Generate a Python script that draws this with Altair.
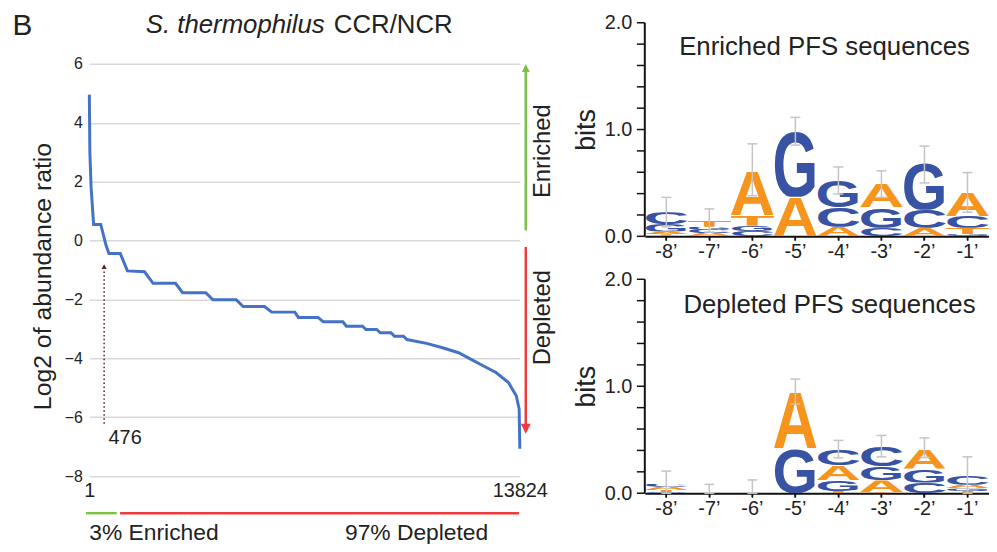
import base64
import altair as alt
import pandas as pd

# ---------------- data: ranked log2 ratios (left panel) ----------------
rank = [1, 18, 58, 138, 367, 538, 630, 996, 1224, 1773, 2048, 2768, 2997, 3740,
        3969, 4712, 4941, 5627, 5856, 6599, 6714, 7342, 7513, 8142, 8256, 8771,
        8885, 9228, 9343, 9686, 9800, 10086, 10200, 10829, 11343, 11858, 12201,
        12658, 13058, 13459, 13710, 13802, 13824]
log2_ratio = [4.96, 3.0, 1.8, 0.55, 0.55, -0.16, -0.44, -0.44, -1.03, -1.06,
              -1.45, -1.45, -1.77, -1.77, -2.01, -2.01, -2.24, -2.24, -2.43,
              -2.43, -2.61, -2.61, -2.76, -2.76, -2.91, -2.91, -3.02, -3.02,
              -3.13, -3.13, -3.25, -3.25, -3.36, -3.49, -3.64, -3.81, -4.0,
              -4.26, -4.48, -4.82, -5.27, -5.72, -7.07]
y_ticks = [-8, -6, -4, -2, 0, 2, 4, 6]
x_ticks = [1, 13824]

# ---------------- data: sequence logos (bits) ----------------
positions = ["-8’", "-7’", "-6’", "-5’", "-4’", "-3’", "-2’", "-1’"]

enr_A = [0.025, 0.03, 0.43, 0.37, 0.09, 0.23, 0.08, 0.22]
enr_C = [0.11, 0.03, 0.05, 0.0, 0.18, 0.08, 0.17, 0.11]
enr_G = [0.07, 0.03, 0.05, 0.62, 0.25, 0.19, 0.45, 0.02]
enr_T = [0.02, 0.06, 0.10, 0.0, 0.0, 0.0, 0.0, 0.06]
enr_err_lo = [0.09, 0.04, 0.38, 0.854, 0.396, 0.365, 0.50, 0.226]
enr_err_hi = [0.365, 0.257, 0.866, 1.114, 0.65, 0.613, 0.845, 0.597]

dep_A = [0.03, 0.0, 0.0, 0.54, 0.14, 0.11, 0.18, 0.035]
dep_C = [0.03, 0.0, 0.0, 0.0, 0.15, 0.19, 0.10, 0.09]
dep_G = [0.01, 0.0, 0.0, 0.42, 0.10, 0.13, 0.13, 0.025]
dep_T = [0.02, 0.0, 0.0, 0.0, 0.02, 0.01, 0.0, 0.02]
dep_err_lo = [0.0, 0.0, 0.0, 0.835, 0.33, 0.34, 0.334, 0.0]
dep_err_hi = [0.207, 0.083, 0.124, 1.067, 0.494, 0.54, 0.517, 0.34]

bits_ticks = [0.0, 0.2, 0.4, 0.6, 0.8, 1.0, 1.2, 1.4, 1.6, 1.8, 2.0]

# ---------------- styles ----------------
FONT = "Liberation Sans"
INK = "#222222"
ORANGE = "#F7941D"
BLUE = "#3953A4"
LINE_BLUE = "#4472C4"
GREEN = "#7CC144"
RED = "#EE3B3B"
GRID = "#D9D9D9"
ERR = "#C4C4C4"
DARK = "#5C1A1A"
AXIS = "#111111"
UP = "M0,-1L1,1L-1,1Z"
DOWN = "M-1,-1L1,-1L0,1Z"

W, H = 989, 536

LX = alt.Scale(domain=[1, 13824], range=[82, 516], nice=False, zero=False)
LY = alt.Scale(domain=[-8, 6], range=[469.7, 54.3], nice=False, zero=False)
PX = alt.Scale(domain=positions, range=[642, 989], paddingInner=0, paddingOuter=0)
# same extent as PX, continuous (column index), used for the axis line and tick marks
PXL = alt.Scale(domain=[0, 8], range=[642, 989], nice=False, zero=False)
TY = alt.Scale(domain=[0, 2], range=[228, 12.7], nice=False, zero=False)
BY = alt.Scale(domain=[0, 2], range=[487, 271.3], nice=False, zero=False)


def letter_url(ch, color):
    svg = (
        '<svg xmlns="http://www.w3.org/2000/svg" width="100" height="100" '
        'viewBox="0 0 100 100" preserveAspectRatio="none">'
        f'<text x="-3" y="100" font-family="Liberation Sans, Arial, sans-serif" '
        f'font-weight="bold" font-size="139" textLength="106" '
        f'lengthAdjust="spacingAndGlyphs" fill="{color}">{ch}</text></svg>'
    )
    return "data:image/svg+xml;base64," + base64.b64encode(svg.encode("utf-8")).decode("ascii")


URLS = {L: letter_url(L, ORANGE if L in "AT" else BLUE) for L in "ACGT"}


def stack(heights):
    rows = []
    for i, p in enumerate(positions):
        col = sorted((heights[L][i], L) for L in "ACGT" if heights[L][i] > 0)
        base = 0.0
        for h, L in col:
            rows.append({"pos": p, "letter": L, "y0": base, "y1": base + h, "url": URLS[L]})
            base += h
    return pd.DataFrame(rows)


def err_df(lo, hi):
    return pd.DataFrame({"pos": positions, "lo": lo, "hi": hi})


# ---------------- left panel ----------------
df_line = pd.DataFrame({"rank": rank, "ratio": log2_ratio})

line = alt.Chart(df_line).mark_line(color=LINE_BLUE, strokeWidth=3).encode(
    x=alt.X("rank:Q", scale=LX, axis=alt.Axis(
        orient="bottom", offset=469.7 - H, values=x_ticks, format="d", grid=False,
        domain=False, ticks=False, labelFontSize=20, labelPadding=5, labelFlush=False,
        labelFont=FONT, labelColor=INK, title=None)),
    y=alt.Y("ratio:Q", scale=LY, axis=alt.Axis(
        orient="left", offset=-82, values=y_ticks, grid=True, gridColor=GRID,
        gridWidth=1.5, domain=False, ticks=False, labelFontSize=16, labelPadding=7,
        labelFont=FONT, labelColor=INK, title="Log2 of abundance ratio",
        titleFontSize=25, titleFontWeight="normal", titleFont=FONT, titleColor=INK,
        titlePadding=9, titleY=268)),
)


def ltext(rows, **mark):
    df = pd.DataFrame(rows, columns=["x", "y", "t"])
    return alt.Chart(df).mark_text(font=FONT, color=INK, **mark).encode(
        x=alt.X("x:Q", scale=LX, axis=None),
        y=alt.Y("y:Q", scale=LY, axis=None),
        text="t:N",
    )


def vrule(x, y1, y2, **mark):
    df = pd.DataFrame({"x": [x], "y": [y1], "y2": [y2]})
    return alt.Chart(df).mark_rule(**mark).encode(
        x=alt.X("x:Q", scale=LX, axis=None),
        y=alt.Y("y:Q", scale=LY, axis=None),
        y2="y2:Q",
    )


def hrule(x1, x2, y, **mark):
    df = pd.DataFrame({"x": [x1], "x2": [x2], "y": [y]})
    return alt.Chart(df).mark_rule(**mark).encode(
        x=alt.X("x:Q", scale=LX, axis=None),
        x2="x2:Q",
        y=alt.Y("y:Q", scale=LY, axis=None),
    )


def head(x, y, shape, size, color, yoff):
    df = pd.DataFrame({"x": [x], "y": [y]})
    return alt.Chart(df).mark_point(shape=shape, size=size, filled=True, color=color,
                                    opacity=1, strokeWidth=0, yOffset=yoff).encode(
        x=alt.X("x:Q", scale=LX, axis=None),
        y=alt.Y("y:Q", scale=LY, axis=None),
    )


left_layers = [
    line,
    # dotted marker at rank 476
    vrule(476, -6.22, -0.95, color=DARK, strokeWidth=1.5, strokeDash=[1.5, 2.5]),
    head(476, -0.80, UP, 25, DARK, 2.5),
    ltext([[476, -6.70, "476"]], fontSize=20, align="left", baseline="middle", dx=4.5),
    # enriched / depleted arrows
    vrule(14015, 0.35, 5.85, color=GREEN, strokeWidth=2.5),
    head(14015, 6.0, UP, 64, GREEN, 4),
    vrule(14015, -0.215, -6.3, color=RED, strokeWidth=2.5),
    head(14015, -6.56, DOWN, 100, RED, -5),
    ltext([[14572, 3.04, "Enriched"], [14572, -2.62, "Depleted"]],
          fontSize=24, angle=270, align="center", baseline="middle"),
    # bottom bars
    hrule(-104, 880, -9.26, color=GREEN, strokeWidth=2.5),
    hrule(988, 13802, -9.26, color=RED, strokeWidth=2.5),
    ltext([[1, -10.18, "3% Enriched"], [8209, -10.18, "97% Depleted"]],
          fontSize=23, align="left", baseline="alphabetic"),
    # titles
    ltext([[-2467, 6.977, "B"]], fontSize=30, align="left", baseline="alphabetic"),
    ltext([[7560, 7.065, "S. thermophilus"]], fontSize=26, fontStyle="italic",
          align="right", baseline="alphabetic"),
    ltext([[7852, 7.065, "CCR/NCR"]], fontSize=26, align="left", baseline="alphabetic"),
]


# ---------------- right panels (sequence logos) ----------------
TICK_LEN = 8 / 43.375      # in column units
XTICK_LEN = 4 / 107.8      # in bits


def logo(heights, lo, hi, YS, axis_y, title, title_bits, title_dx):
    x_axis = alt.Axis(orient="bottom", offset=axis_y - H, title=None, labelAngle=0,
                      labelFontSize=20, labelFont=FONT, labelColor=INK, labelPadding=1,
                      domain=True, ticks=True,
                      tickSize=4, tickWidth=1.5, tickColor=AXIS,
                      domainColor=AXIS, domainWidth=2,
                      bandPosition=0.5, grid=False)
    y_axis = alt.Axis(orient="left", offset=-642, values=bits_ticks,
                      labelExpr="abs(datum.value - round(datum.value)) < 0.001 ? format(datum.value, '.1f') : ''",
                      title="bits", titleFontSize=27, titleFontWeight="normal",
                      titleFont=FONT, titleColor=INK, titlePadding=4,
                      labelFontSize=20, labelFont=FONT, labelColor=INK, labelPadding=13,
                      domain=False, ticks=False, grid=False)
    letters = alt.Chart(stack(heights)).mark_image(aspect=False).encode(
        x=alt.X("pos:N", scale=PX, axis=x_axis),
        y=alt.Y("y0:Q", scale=YS, axis=y_axis),
        y2="y1:Q",
        url="url:N",
    )
    # y axis line and tick marks, drawn through the panel's scales
    ydf = pd.DataFrame({"x": [0.0], "a": [0.0], "b": [2.0]})
    y_line = alt.Chart(ydf).mark_rule(color=AXIS, strokeWidth=2).encode(
        x=alt.X("x:Q", scale=PXL, axis=None),
        y=alt.Y("a:Q", scale=YS, axis=None), y2="b:Q")
    ytdf = pd.DataFrame({"x": [-TICK_LEN] * len(bits_ticks), "x2": [0.0] * len(bits_ticks),
                         "v": bits_ticks})
    y_tick = alt.Chart(ytdf).mark_rule(color=AXIS, strokeWidth=1.5).encode(
        x=alt.X("x:Q", scale=PXL, axis=None), x2="x2:Q",
        y=alt.Y("v:Q", scale=YS, axis=None))
    xtdf = pd.DataFrame({"x": [i + 0.5 for i in range(len(positions))],
                         "a": [0.0] * len(positions), "b": [-XTICK_LEN] * len(positions)})
    x_tick = alt.Chart(xtdf).mark_rule(color=AXIS, strokeWidth=1.5).encode(
        x=alt.X("x:Q", scale=PXL, axis=None),
        y=alt.Y("a:Q", scale=YS, axis=None), y2="b:Q")
    edf = err_df(lo, hi)
    ex = alt.X("pos:N", scale=PX, axis=None)
    bar = alt.Chart(edf).mark_rule(color=ERR, strokeWidth=1.5).encode(
        x=ex, y=alt.Y("lo:Q", scale=YS, axis=None), y2="hi:Q")
    cap_hi = alt.Chart(edf).mark_tick(color=ERR, thickness=1.5, size=10, opacity=1).encode(
        x=ex, y=alt.Y("hi:Q", scale=YS, axis=None))
    cap_lo = alt.Chart(edf).mark_tick(color=ERR, thickness=1.5, size=10, opacity=1).encode(
        x=ex, y=alt.Y("lo:Q", scale=YS, axis=None))
    tdf = pd.DataFrame({"x": ["-4’"], "y": [title_bits], "t": [title]})
    ttl = alt.Chart(tdf).mark_text(font=FONT, color=INK, fontSize=26, align="center",
                                   baseline="alphabetic", dx=title_dx).encode(
        x=alt.X("x:N", scale=PX, axis=None),
        y=alt.Y("y:Q", scale=YS, axis=None),
        text="t:N",
    )
    return [letters, y_line, y_tick, x_tick, bar, cap_hi, cap_lo, ttl]


top_layers = logo({"A": enr_A, "C": enr_C, "G": enr_G, "T": enr_T},
                  enr_err_lo, enr_err_hi, TY, 228, "Enriched PFS sequences", 1.696, -14)
bottom_layers = logo({"A": dep_A, "C": dep_C, "G": dep_G, "T": dep_T},
                     dep_err_lo, dep_err_hi, BY, 487, "Depleted PFS sequences", 1.685, -9)

chart = (
    alt.layer(*left_layers, *top_layers, *bottom_layers)
    .resolve_scale(x="independent", y="independent")
    .resolve_axis(x="independent", y="independent")
    .properties(width=W, height=H, autosize=alt.AutoSizeParams(type="none"), padding=0)
    .configure_view(stroke=None)
)

chart.save("out.html", embed_options={"renderer": "svg", "actions": False})
